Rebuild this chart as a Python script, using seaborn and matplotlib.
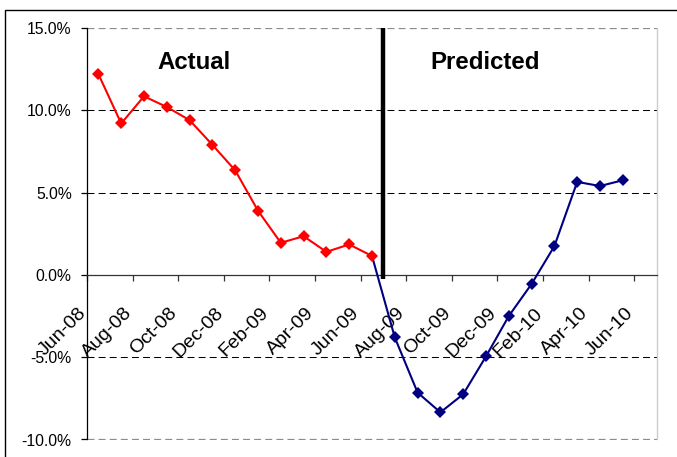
import matplotlib
matplotlib.use("Agg")
import matplotlib.pyplot as plt
import seaborn as sns
import pandas as pd
from matplotlib.ticker import FuncFormatter, FixedLocator
from matplotlib.patches import Rectangle
from matplotlib.transforms import ScaledTranslation

# Monthly growth rates (%), actual history and model forecast
actual_months = ["Jun-08", "Jul-08", "Aug-08", "Sep-08", "Oct-08", "Nov-08", "Dec-08",
                 "Jan-09", "Feb-09", "Mar-09", "Apr-09", "May-09", "Jun-09"]
actual_values = [12.2, 9.2, 10.85, 10.2, 9.4, 7.9, 6.35, 3.9, 1.95, 2.35, 1.4, 1.85, 1.15]

predicted_months = ["Jul-09", "Aug-09", "Sep-09", "Oct-09", "Nov-09", "Dec-09",
                    "Jan-10", "Feb-10", "Mar-10", "Apr-10", "May-10"]
predicted_values = [-3.8, -7.15, -8.35, -7.25, -4.95, -2.5, -0.55, 1.75, 5.65, 5.4, 5.75]

tick_labels = ["Jun-08", "Aug-08", "Oct-08", "Dec-08", "Feb-09", "Apr-09", "Jun-09",
               "Aug-09", "Oct-09", "Dec-09", "Feb-10", "Apr-10", "Jun-10"]

section_labels = ["Actual", "Predicted"]

# month index along the date axis (Jun-08 .. Jul-10)
all_months = [p.strftime("%b-%y") for p in pd.period_range("2008-06", "2010-07", freq="M")]
month_pos = {m: i for i, m in enumerate(all_months)}

df_actual = pd.DataFrame({"month": actual_months, "value": actual_values})
df_actual["pos"] = [month_pos[m] + 0.5 for m in df_actual["month"]]

# forecast line starts from the last actual observation
df_pred = pd.DataFrame({"month": [actual_months[-1]] + predicted_months,
                        "value": [actual_values[-1]] + predicted_values})
df_pred["pos"] = [month_pos[m] + 0.5 for m in df_pred["month"]]

sns.set_theme(style="ticks")
plt.rcParams["font.family"] = ["Liberation Sans", "DejaVu Sans"]
plt.rcParams["lines.scale_dashes"] = False

fig = plt.figure(figsize=(6.77, 4.57), dpi=100)
ax = fig.add_axes([87 / 677, 1 - 439.5 / 457, (657 - 87) / 677, (439.5 - 28) / 457])

# horizontal dashed gridlines
dash = (0, (5.0, 3.0))
for v in [10, 5, -5]:
    ax.axhline(v, color="black", lw=0.75, ls=dash, zorder=1)
for v in [15, -10]:
    ax.axhline(v, color="#8c8c8c", lw=0.9, ls=dash, zorder=1)

sns.lineplot(data=df_pred, x="pos", y="value", ax=ax, color="#000080", lw=1.5,
             marker="D", markersize=6.2, markeredgewidth=0, markerfacecolor="#000080",
             markevery=list(range(1, len(df_pred))), sort=False, zorder=3)
sns.lineplot(data=df_actual, x="pos", y="value", ax=ax, color="#ff0000", lw=1.5,
             marker="D", markersize=6.2, markeredgewidth=0, markerfacecolor="#ff0000",
             sort=False, zorder=4)

# divider between history and forecast
ax.plot([month_pos["Jul-09"]] * 2, [-0.25, 15], color="black", lw=3.2,
        solid_capstyle="butt", zorder=5)

ax.set_xlim(0, len(all_months) - 1)
ax.set_ylim(-10, 15)
ax.set_xlabel("")
ax.set_ylabel("")

ax.yaxis.set_major_locator(FixedLocator([-10, -5, 0, 5, 10, 15]))
ax.yaxis.set_major_formatter(FuncFormatter(lambda v, _: f"{v:.1f}%"))
ax.xaxis.set_major_locator(FixedLocator([month_pos[m] for m in tick_labels]))
ax.set_xticklabels(tick_labels)

ax.spines["top"].set_visible(False)
ax.spines["right"].set_color("#cccccc")
ax.spines["right"].set_linewidth(1.0)
ax.spines["left"].set_color("black")
ax.spines["left"].set_linewidth(0.9)
ax.spines["bottom"].set_position(("data", 0))
ax.spines["bottom"].set_color("#333333")
ax.spines["bottom"].set_linewidth(0.9)

ax.tick_params(axis="y", direction="out", length=4, width=0.9, color="black",
               pad=7, labelsize=11.3, labelcolor="black")
ax.tick_params(axis="x", direction="out", length=4.2, width=0.9, color="#333333",
               pad=21.5, labelsize=14, labelcolor="black")
shift = ScaledTranslation(-3.5 / 100, 0, fig.dpi_scale_trans)
for lbl in ax.get_xticklabels():
    lbl.set_rotation(45)
    lbl.set_ha("right")
    lbl.set_va("center")
    lbl.set_rotation_mode("anchor")
    lbl.set_transform(lbl.get_transform() + shift)

ax.text(4.7, 12.9, section_labels[0], ha="center", va="center",
        fontsize=17.3, fontweight="bold", color="black")
ax.text(17.45, 12.9, section_labels[1], ha="center", va="center",
        fontsize=17.3, fontweight="bold", color="black")

# outer chart frame
fig.patches.append(Rectangle((5 / 677, -0.1), 1.2, (457 - 10) / 457 + 0.1,
                             transform=fig.transFigure, fill=False,
                             ec="black", lw=1.0, clip_on=False))

fig.savefig("out.png", dpi=100)
